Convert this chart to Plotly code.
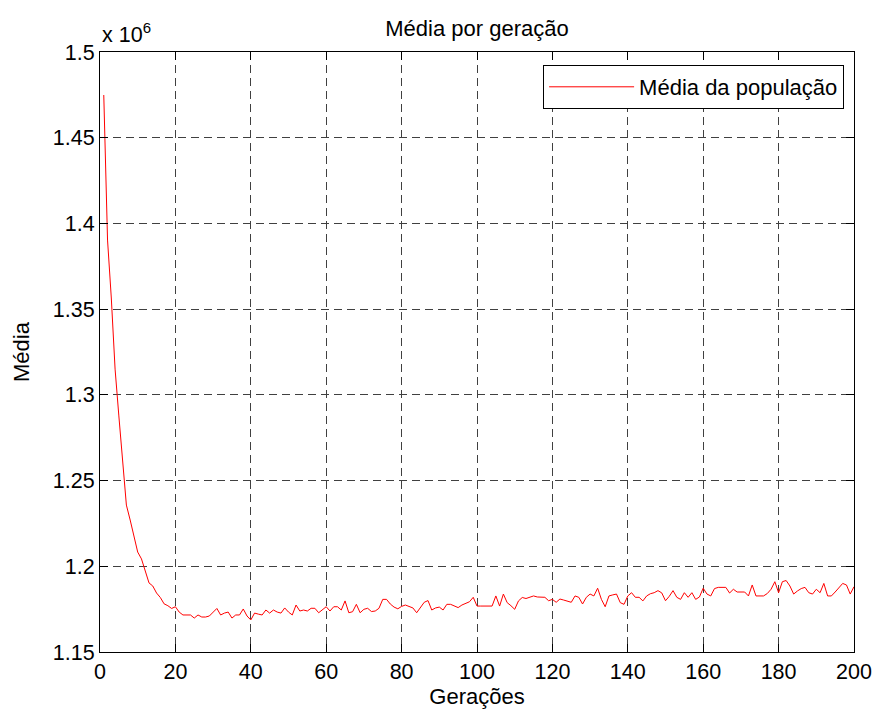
import plotly.graph_objects as go

# Generations 1..200
generations = list(range(1, 201))

# Population mean per generation (in units of 10^6)
mean_millions = [
    1.4749, 1.3903, 1.3565, 1.3150, 1.2877, 1.2614, 1.2357, 1.2270, 1.2177, 1.2083,
    1.2043, 1.1973, 1.1903, 1.1885, 1.1844, 1.1818, 1.1781, 1.1770, 1.1754, 1.1764,
    1.1733, 1.1716, 1.1716, 1.1716, 1.1698, 1.1716, 1.1704, 1.1704, 1.1710, 1.1733,
    1.1754, 1.1716, 1.1727, 1.1733, 1.1698, 1.1716, 1.1716, 1.1751, 1.1710, 1.1687,
    1.1727, 1.1721, 1.1716, 1.1745, 1.1727, 1.1745, 1.1733, 1.1727, 1.1757, 1.1733,
    1.1716, 1.1774, 1.1739, 1.1745, 1.1739, 1.1755, 1.1755, 1.1729, 1.1748, 1.1764,
    1.1739, 1.1764, 1.1764, 1.1745, 1.1798, 1.1729, 1.1735, 1.1778, 1.1729, 1.1749,
    1.1755, 1.1736, 1.1739, 1.1755, 1.1807, 1.1807, 1.1780, 1.1762, 1.1752, 1.1766,
    1.1774, 1.1764, 1.1757, 1.1729, 1.1759, 1.1790, 1.1800, 1.1745, 1.1757, 1.1762,
    1.1745, 1.1778, 1.1778, 1.1768, 1.1759, 1.1774, 1.1785, 1.1793, 1.1819, 1.1768,
    1.1768, 1.1768, 1.1768, 1.1768, 1.1827, 1.1768, 1.1838, 1.1788, 1.1770, 1.1749,
    1.1798, 1.1818, 1.1812, 1.1818, 1.1827, 1.1821, 1.1819, 1.1819, 1.1799, 1.1807,
    1.1790, 1.1809, 1.1803, 1.1798, 1.1790, 1.1827, 1.1819, 1.1780, 1.1819, 1.1838,
    1.1827, 1.1872, 1.1807, 1.1764, 1.1827, 1.1833, 1.1838, 1.1788, 1.1778, 1.1827,
    1.1846, 1.1819, 1.1819, 1.1798, 1.1827, 1.1840, 1.1846, 1.1858, 1.1845, 1.1799,
    1.1825, 1.1858, 1.1819, 1.1807, 1.1846, 1.1819, 1.1846, 1.1807, 1.1821, 1.1872,
    1.1838, 1.1827, 1.1870, 1.1877, 1.1877, 1.1877, 1.1844, 1.1866, 1.1850, 1.1850,
    1.1850, 1.1827, 1.1891, 1.1827, 1.1827, 1.1827, 1.1841, 1.1866, 1.1910, 1.1846,
    1.1910, 1.1917, 1.1885, 1.1838, 1.1856, 1.1870, 1.1877, 1.1846, 1.1838, 1.1866,
    1.1846, 1.1900, 1.1827, 1.1827, 1.1850, 1.1875, 1.1900, 1.1891, 1.1838, 1.1881,
]
SCALE = 1e6
mean_values = [v * SCALE for v in mean_millions]

x_ticks = [0, 20, 40, 60, 80, 100, 120, 140, 160, 180, 200]
y_tick_labels = ["1.15", "1.2", "1.25", "1.3", "1.35", "1.4", "1.45", "1.5"]
y_tick_vals = [float(t) * SCALE for t in y_tick_labels]

FONT = "Arial, Liberation Sans, Helvetica, sans-serif"
FS = 22
TFS = 21.5

W, H = 876, 705

fig = go.Figure()
fig.add_trace(go.Scatter(
    x=generations, y=mean_values, mode="lines",
    name="Média da população",
    line=dict(color="#ff0000", width=1),
))

axis_common = dict(
    showline=True, linecolor="black", linewidth=1, mirror="ticks",
    ticks="inside", ticklen=8, tickcolor="black", tickwidth=1,
    showgrid=True, gridcolor="#404040", gridwidth=1, griddash="8px,5px",
    zeroline=False,
    tickfont=dict(family=FONT, size=TFS, color="black"),
)

fig.update_layout(
    width=W, height=H,
    paper_bgcolor="white", plot_bgcolor="white",
    margin=dict(l=88, r=26, t=44, b=61),
    font=dict(family=FONT, size=FS, color="black"),
    title=dict(text="Média por geração", xref="paper", x=0.5, xanchor="center",
               y=1 - 20 / H, yanchor="middle",
               font=dict(family=FONT, size=FS, color="black")),
    xaxis=dict(range=[0, 200], tickvals=x_ticks,
               title=dict(text="Gerações", standoff=2,
                          font=dict(family=FONT, size=FS)),
               **axis_common),
    yaxis=dict(range=[1.15 * SCALE, 1.5 * SCALE], tickvals=y_tick_vals,
               ticktext=y_tick_labels,
               title=dict(text="Média", standoff=17,
                          font=dict(family=FONT, size=FS)),
               **axis_common),
    showlegend=True,
    legend=dict(x=(848 - 96) / 762, xanchor="right",
                y=(652 - 65) / 600, yanchor="top",
                bgcolor="white", bordercolor="black", borderwidth=1,
                itemwidth=85,
                font=dict(family=FONT, size=FS, color="black")),
    annotations=[dict(
        text="x 10<sup>6</sup>", xref="paper", yref="paper",
        x=0.0, xanchor="left", y=1 + 19 / 600, yanchor="middle",
        showarrow=False, font=dict(family=FONT, size=TFS, color="black"),
    )],
)

fig.write_html("out.html")
